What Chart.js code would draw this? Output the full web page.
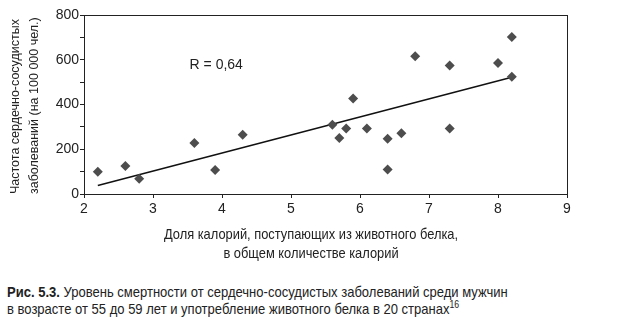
<!DOCTYPE html>
<html lang="ru">
<head>
<meta charset="utf-8">
<script src="https://cdn.jsdelivr.net/npm/chart.js@4.4.1/dist/chart.umd.min.js"></script>
<style>
    body { margin: 0; background: #fff; width: 622px; height: 329px; overflow: hidden; }
    #wrap { position: relative; width: 622px; height: 270px; }
    .caption {
        position: absolute; left: 7px; top: 283px; white-space: nowrap;
        font: 15px 'Liberation Sans', sans-serif; line-height: 17px; color: #222;
        transform: scaleX(0.868); transform-origin: left top;
    }
    .caption sup { font-size: 10px; line-height: 0; vertical-align: 6px; }
</style>
</head>
<body>
<div id="wrap"><canvas id="proteinChart"></canvas></div>
<div class="caption"><b>Рис. 5.3.</b> Уровень смертности от сердечно-сосудистых заболеваний среди мужчин<br>в возрасте от 55 до 59 лет и употребление животного белка в 20 странах<sup>16</sup></div>

<script>
// Share of calories from animal protein (x) vs CVD deaths per 100 000 (y)
const proteinShare = [2.2, 2.6, 2.8, 3.6, 3.9, 4.3, 5.6, 5.7, 5.8, 5.9, 6.1, 6.4, 6.4, 6.6, 6.8, 7.3, 7.3, 8.0, 8.2, 8.2];
const deathRate    = [100, 125, 68, 228, 107, 265, 309, 250, 293, 427, 293, 247, 110, 271, 616, 574, 293, 586, 702, 524];

// regression line end points as drawn
const trendX = [2.2, 8.2];
const trendY = [38, 522];

const rLabel = 'R = 0,64';
const xTitle = ['Доля калорий, поступающих из животного белка,', 'в общем количестве калорий'];
const yTitle = ['Частота сердечно-сосудистых', 'заболеваний (на 100 000 чел.)'];

const ink = '#222';

// frame, R label and x title (condensed look via horizontal squeeze)
const notesPlugin = {
    id: 'notes',
    afterDraw(chart) {
        const { ctx, chartArea: a, scales: { x, y } } = chart;
        ctx.save();
        ctx.strokeStyle = ink;
        ctx.lineWidth = 1;
        ctx.strokeRect(Math.round(a.left) + 0.5, Math.round(a.top) + 0.5, Math.round(a.right - a.left), Math.round(a.bottom - a.top));
        ctx.fillStyle = ink;
        ctx.textBaseline = 'middle';
        ctx.font = "14px 'Liberation Sans', sans-serif";
        ctx.fillText(rLabel, x.getPixelForValue(3.53), y.getPixelForValue(575));
        ctx.font = "15px 'Liberation Sans', sans-serif";
        ctx.textAlign = 'center';
        const squeeze = 0.857;
        ctx.translate(311, 0);
        ctx.scale(squeeze, 1);
        xTitle.forEach((line, i) => ctx.fillText(line, 0, 235 + i * 19));
        ctx.restore();
    }
};

new Chart(document.getElementById('proteinChart').getContext('2d'), {
    type: 'scatter',
    data: {
        datasets: [{
            data: proteinShare.map((v, i) => ({ x: v, y: deathRate[i] })),
            pointStyle: 'rectRot',
            pointRadius: 5,
            pointBorderWidth: 0,
            backgroundColor: '#4d4d4d',
            borderColor: '#4d4d4d'
        }, {
            type: 'line',
            data: trendX.map((v, i) => ({ x: v, y: trendY[i] })),
            borderColor: '#111',
            borderWidth: 1.5,
            pointRadius: 0,
            fill: false
        }]
    },
    options: {
        responsive: true,
        maintainAspectRatio: false,
        animation: false,
        layout: { padding: { top: 15, right: 55, bottom: 0, left: 0 } },
        plugins: { legend: { display: false }, tooltip: { enabled: false } },
        scales: {
            x: {
                type: 'linear', min: 2, max: 9,
                ticks: { stepSize: 1, color: ink, padding: 3, font: { family: "'Liberation Sans'", size: 14 } },
                grid: { drawOnChartArea: false, tickLength: 4, color: ink },
                border: { color: ink },
                afterFit: s => { s.height = 76; }
            },
            y: {
                min: 0, max: 800,
                ticks: {
                    stepSize: 100, color: ink, padding: 1,
                    font: { family: "'Liberation Sans'", size: 14 },
                    callback: v => (v % 200 === 0 ? v : '')
                },
                grid: { drawOnChartArea: false, tickLength: 4, color: ink },
                border: { color: ink },
                title: {
                    display: true, text: yTitle, align: 'start', color: ink,
                    font: { family: "'Liberation Sans'", size: 12.5, lineHeight: 19 / 12.5 },
                    padding: { top: 6.5, bottom: 0 }
                },
                afterFit: s => { s.width = 84; }
            }
        }
    },
    plugins: [notesPlugin]
});
</script>
</body>
</html>
